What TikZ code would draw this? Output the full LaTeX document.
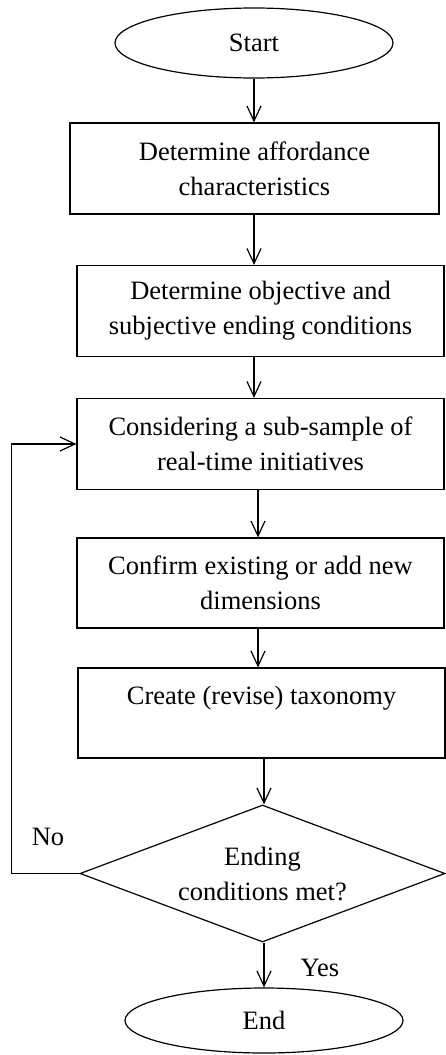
\documentclass[tikz,border=0pt]{standalone}
\usepackage{fontspec}
\setmainfont{Liberation Serif}
\usetikzlibrary{shapes.geometric,arrows.meta}
\tikzset{
  every node/.style={font=\fontsize{26.5}{35}\selectfont},
  stepbox/.style={draw,rectangle,minimum width=367pt,minimum height=91pt,align=center,inner sep=0pt},
  terminal/.style={draw,ellipse,minimum width=278pt,minimum height=70pt,inner sep=0pt},
  decision/.style={draw,diamond,aspect=2.66,minimum width=365pt,minimum height=137pt,inner sep=0pt,align=center},
  flow/.style={-{Straight Barb[length=15pt,width=14pt]}}
}
\begin{document}
\begin{tikzpicture}[x=1pt,y=-1pt,line width=1.2pt]
      \useasboundingbox (0,0) rectangle (445,1055);
      \draw
        (254,43) node[terminal] (start){Start}
        (254.5,168.5) node[stepbox,minimum width=369pt] (1){Determine affordance\\characteristics}
        (260.5,311) node[stepbox] (2){Determine objective and\\subjective ending conditions}
        (260.5,444) node[stepbox] (3){Considering a sub-sample of\\real-time initiatives}
        (260.5,583) node[stepbox,minimum height=90pt] (4){Confirm existing or add new\\dimensions}
        (261.5,713) node[stepbox,minimum height=90pt] (5){Create (revise) taxonomy\\\mbox{}}
        (262.5,873.5) node[decision] (6){Ending\\conditions met?}
        (264,1020.5) node[terminal,minimum height=65pt] (end){End};
      \draw
        (48,837) node (no){No}
        (320,968) node (yes){Yes};
      \begin{scope}[flow]
        \draw (start) to (start |- 1.north);
        \draw (1.south -| 254,0) to (2.north -| 254,0);
        \draw (2.south -| 254,0) to (3.north -| 254,0);
        \draw (3.south -| 258,0) to (4.north -| 258,0);
        \draw (4.south -| 258,0) to (5.north -| 258,0);
        \draw (5.south -| 264,0) to (6.north -| 264,0);
        \draw (6.south -| 264,0) to (end.north -| 264,0);
        \draw (6.west) -- ++(-68,0) |- (3.west);
      \end{scope}
    \end{tikzpicture}
\end{document}
